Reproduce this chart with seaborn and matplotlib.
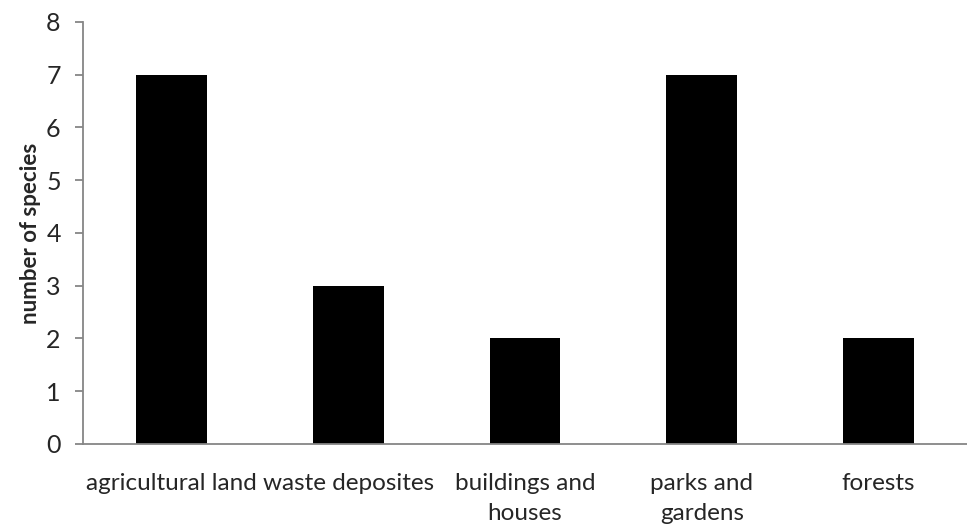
import pandas as pd
import matplotlib.pyplot as plt
import seaborn as sns
import numpy as np

habitats = ['agricultural land', 'waste deposites', 'buildings and\nhouses', 'parks and\ngardens', 'forests']
species = [7, 3, 2, 7, 2]

df = pd.DataFrame({'habitat': habitats, 'species': species})

sns.set_style('white')
plt.rcParams['font.family'] = ['Lato', 'DejaVu Sans']

fig = plt.figure(figsize=(9.67, 5.30), dpi=100)
ax = fig.add_axes([0.0858, 0.1623, 0.9142, 0.7962])

sns.barplot(data=df, x='habitat', y='species', color='black', width=0.4, saturation=1,
            linewidth=0, ax=ax)

axis_col = '#868686'
ax.set_xlim(-0.5, 4.5)
ax.set_ylim(0, 8)
ax.set_yticks(range(0, 9))
for s in ['top', 'right']:
    ax.spines[s].set_visible(False)
for s in ['left', 'bottom']:
    ax.spines[s].set_color(axis_col)
    ax.spines[s].set_linewidth(1.3)

ax.set_xticks(np.arange(-0.5, 5, 1), minor=True)
ax.tick_params(axis='x', which='major', length=0, pad=21, labelsize=17.5)
ax.tick_params(axis='x', which='minor', length=6, color=axis_col, width=1.3, direction='out')
ax.tick_params(axis='y', length=6, color=axis_col, width=1.3, direction='out', left=True, labelsize=18, pad=10)
for lbl in ax.get_xticklabels():
    lbl.set_linespacing(1.5)

plt.xlabel('')
plt.ylabel('number of species', fontsize=16, fontweight='bold', labelpad=4)
plt.savefig('out.png', dpi=100)
